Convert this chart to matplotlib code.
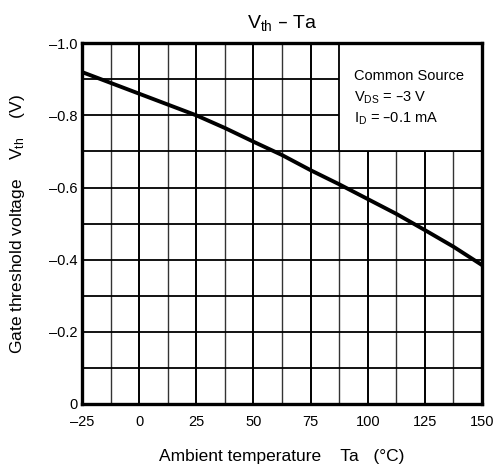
import numpy as np
import matplotlib
matplotlib.use("Agg")
import matplotlib.pyplot as plt
from matplotlib.patches import Rectangle

plt.rcParams['font.family'] = ['Liberation Sans', 'DejaVu Sans']

# Vth vs ambient temperature, read at 12.5 degC steps
temp = [-25, -12.5, 0, 12.5, 25, 37.5, 50, 62.5, 75, 87.5, 100, 112.5, 125, 137.5, 150]
vth = [-0.920, -0.890, -0.860, -0.830, -0.800, -0.765, -0.727, -0.690, -0.648,
       -0.609, -0.568, -0.527, -0.482, -0.436, -0.385]

DASH = '\u2013'
xticks = [-25, 0, 25, 50, 75, 100, 125, 150]
xtick_labels = [DASH + '25', '0', '25', '50', '75', '100', '125', '150']
yticks = [0, -0.2, -0.4, -0.6, -0.8, -1.0]
ytick_labels = ['0', DASH + '0.2', DASH + '0.4', DASH + '0.6', DASH + '0.8', DASH + '1.0']

notes = ['Common Source',
         r'$\mathregular{V_{DS}}$ = ' + DASH + '3 V',
         r'$\mathregular{I_{D}}$ = ' + DASH + '0.1 mA']

fig = plt.figure(figsize=(4.95, 4.71), dpi=100)
ax = fig.add_axes([0.1657, 0.1423, 0.808, 0.766])

ax.set_xlim(-25, 150)
ax.set_ylim(0, -1.0)

# grid: major every 25 degC, minor every 12.5, horizontal every 0.1 V
for x in np.arange(-12.5, 150, 12.5):
    major = abs(x % 25) < 1e-9
    ax.axvline(x, color='black' if major else '#333333', lw=1.4 if major else 1.0, zorder=1)
for y in np.arange(-0.1, -1.0, -0.1):
    ax.axhline(y, color='black', lw=1.3, zorder=1)

# white box holding the test conditions
ax.add_patch(Rectangle((87.5, -1.0), 62.5, 0.3, facecolor='white',
                       edgecolor='black', lw=1.3, zorder=2))
for i, s in enumerate(notes):
    ax.text(94, -0.897 + i * 0.058, s, fontsize=10.5, va='baseline', ha='left', zorder=3)

ax.plot(temp, vth, color='black', lw=2.8, zorder=4, solid_capstyle='butt')

ax.set_xticks(xticks)
ax.set_xticklabels(xtick_labels)
ax.set_yticks(yticks)
ax.set_yticklabels(ytick_labels)
ax.tick_params(length=0, labelsize=10.5)
ax.tick_params(axis='x', pad=8)
ax.tick_params(axis='y', pad=3)
for sp in ax.spines.values():
    sp.set_linewidth(2.4)
    sp.set_zorder(5)

ax.set_title(r'$\mathregular{V_{th}}$ ' + DASH + ' Ta', fontsize=14, pad=11)
ax.set_xlabel('Ambient temperature    Ta   (\u00b0C)', fontsize=12.5, labelpad=14)
ax.set_ylabel(r'Gate threshold voltage    $\mathregular{V_{th}}$    (V)', fontsize=12.5, labelpad=16)

fig.savefig('out.png', dpi=100)
